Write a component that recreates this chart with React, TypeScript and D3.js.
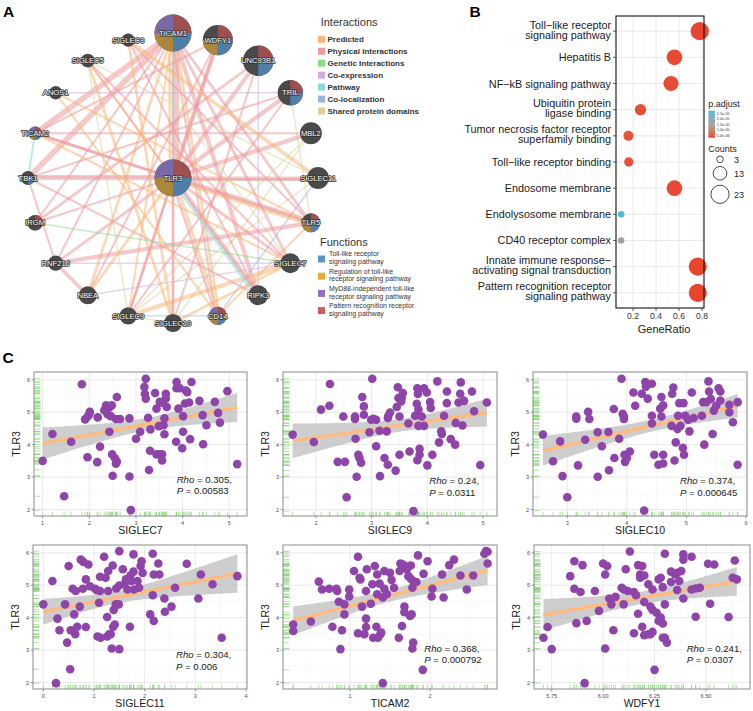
import React from 'react';
import * as d3 from 'd3';

const FONT = '"Liberation Sans", Arial, Helvetica, sans-serif';

/* ================= Panel A : network data ================= */
const hubGene = 'TLR3';
const hubScore = 100;
const ringGenes = ['TICAM1', 'WDFY1', 'UNC93B1', 'TRIL', 'MBL2', 'SIGLEC11', 'TLR5', 'SIGLEC7', 'RIPK3', 'CD14',
  'SIGLEC10', 'SIGLEC9', 'NBEA', 'RNF216', 'IRGM', 'TBK1', 'TICAM2', 'ANOS1', 'SIGLEC5', 'SIGLEC8'];
const ringScores = [100, 66, 68, 47, 35, 35, 26, 29, 29, 24, 24, 22, 24, 17, 18, 14, 13, 13, 14, 13];

// quadrant order (clockwise from 12 o'clock)
const quadrantKeys = ['pattern', 'toll', 'regulation', 'myd88'];
const geneFunctions: Record<string, string[]> = {
  TLR3: ['pattern', 'toll', 'regulation', 'myd88'],
  TICAM1: ['pattern', 'toll', 'regulation', 'myd88'],
  WDFY1: ['pattern', 'toll', 'regulation'],
  UNC93B1: ['pattern', 'toll'],
  TRIL: ['pattern', 'toll'],
  TLR5: ['pattern', 'toll', 'regulation'],
  CD14: ['pattern', 'toll', 'regulation', 'myd88'],
  TICAM2: ['pattern', 'toll', 'regulation', 'myd88'],
  TBK1: ['toll'],
  IRGM: ['pattern'],
};

const interactionNames = ['Predicted', 'Physical Interactions', 'Genetic Interactions', 'Co-expression', 'Pathway', 'Co-localization', 'Shared protein domains'];
const interactionKeys = ['pred', 'phys', 'gen', 'coex', 'path', 'coloc', 'dom'];
const interactionColors = ['#f7b87a', '#ec9a9e', '#8ddc8a', '#d2aedc', '#8fd8dc', '#9db1e3', '#dbd29a'];

const functionLegendKeys = ['toll', 'regulation', 'myd88', 'pattern'];
const functionLegendLabels = [
  ['Toll-like receptor', 'signaling pathway'],
  ['Regulation of toll-like', 'receptor signaling pathway'],
  ['MyD88-independent toll-like', 'receptor signaling pathway'],
  ['Pattern recognition receptor', 'signaling pathway'],
];
const functionLegendColors = ['#5b94c8', '#eaa935', '#8b72c8', '#c9625c'];
const functionNodeColors = ['#4f7ea8', '#ab863c', '#7a69a8', '#9e4f50'];

// [source, target, interaction type, weight]
const edgeList: [string, string, string, number][] = [
  ['TICAM1', 'TLR3', 'phys', 4], ['TICAM1', 'TLR3', 'path', 2], ['TICAM1', 'TLR3', 'pred', 2],
  ['TICAM1', 'TBK1', 'phys', 4], ['TICAM1', 'TICAM2', 'phys', 4], ['TICAM1', 'RIPK3', 'phys', 3],
  ['TICAM1', 'SIGLEC7', 'phys', 2], ['TICAM1', 'CD14', 'pred', 2], ['TICAM1', 'CD14', 'phys', 1.5],
  ['TICAM1', 'IRGM', 'phys', 1.5], ['TICAM1', 'RNF216', 'phys', 1.5], ['TICAM1', 'NBEA', 'pred', 2],
  ['TICAM1', 'TLR5', 'phys', 2], ['TICAM1', 'SIGLEC10', 'phys', 1], ['TICAM1', 'SIGLEC9', 'pred', 1.5],
  ['WDFY1', 'TLR3', 'phys', 3], ['WDFY1', 'SIGLEC9', 'phys', 2], ['WDFY1', 'NBEA', 'phys', 1.5],
  ['WDFY1', 'TICAM2', 'phys', 1.5], ['UNC93B1', 'TLR3', 'phys', 3], ['UNC93B1', 'IRGM', 'phys', 2],
  ['UNC93B1', 'RIPK3', 'coex', 1], ['UNC93B1', 'SIGLEC10', 'phys', 1.5], ['TRIL', 'TLR3', 'phys', 3],
  ['TRIL', 'TBK1', 'phys', 1.5], ['TRIL', 'ANOS1', 'coex', 1], ['TRIL', 'TLR5', 'dom', 1],
  ['TRIL', 'SIGLEC9', 'phys', 1.5], ['MBL2', 'TLR3', 'phys', 3], ['MBL2', 'TICAM2', 'phys', 1.5],
  ['MBL2', 'SIGLEC9', 'dom', 1], ['MBL2', 'SIGLEC10', 'dom', 1], ['SIGLEC11', 'TBK1', 'phys', 2],
  ['SIGLEC11', 'TLR3', 'phys', 2], ['SIGLEC11', 'SIGLEC8', 'pred', 2.5], ['SIGLEC11', 'SIGLEC5', 'dom', 1],
  ['SIGLEC11', 'SIGLEC9', 'dom', 1], ['SIGLEC11', 'CD14', 'coloc', 1], ['TLR5', 'RNF216', 'phys', 3],
  ['TLR5', 'TLR3', 'pred', 3], ['TLR5', 'TLR3', 'phys', 2], ['TLR5', 'TICAM2', 'phys', 2],
  ['TLR5', 'CD14', 'pred', 1.5], ['TLR5', 'ANOS1', 'pred', 1.5], ['SIGLEC7', 'SIGLEC9', 'pred', 3],
  ['SIGLEC7', 'SIGLEC10', 'pred', 2], ['SIGLEC7', 'TLR3', 'phys', 2], ['SIGLEC7', 'NBEA', 'coex', 1],
  ['SIGLEC7', 'SIGLEC5', 'phys', 1.5], ['SIGLEC7', 'SIGLEC8', 'dom', 1], ['SIGLEC7', 'RNF216', 'coex', 1],
  ['RIPK3', 'TLR3', 'path', 3], ['RIPK3', 'TLR3', 'phys', 2], ['RIPK3', 'TBK1', 'phys', 1.5],
  ['RIPK3', 'SIGLEC8', 'phys', 1.5], ['RIPK3', 'SIGLEC5', 'phys', 1.5], ['CD14', 'TLR3', 'phys', 2],
  ['CD14', 'TLR3', 'pred', 2], ['CD14', 'SIGLEC9', 'coloc', 1], ['SIGLEC10', 'SIGLEC8', 'pred', 2],
  ['SIGLEC10', 'SIGLEC5', 'pred', 2], ['SIGLEC10', 'TLR3', 'phys', 2], ['SIGLEC10', 'SIGLEC9', 'dom', 1],
  ['SIGLEC9', 'TLR3', 'phys', 1.5], ['SIGLEC9', 'SIGLEC5', 'dom', 1], ['NBEA', 'RNF216', 'phys', 2.5],
  ['NBEA', 'TLR3', 'pred', 2], ['RNF216', 'TLR3', 'phys', 2], ['RNF216', 'TBK1', 'phys', 1.5],
  ['IRGM', 'TLR3', 'phys', 1.5], ['TBK1', 'TLR3', 'phys', 2], ['TBK1', 'TICAM2', 'path', 1.5],
  ['TBK1', 'TLR3', 'path', 1], ['TICAM2', 'TLR3', 'phys', 2], ['TICAM2', 'SIGLEC7', 'pred', 1.5],
  ['ANOS1', 'CD14', 'pred', 1.5], ['SIGLEC5', 'TLR3', 'pred', 1.5], ['SIGLEC8', 'TLR5', 'phys', 1.5],
  ['TLR3', 'SIGLEC11', 'gen', 1], ['IRGM', 'SIGLEC7', 'gen', 1],
];

/* ================= Panel B : enrichment dot plot ================= */
const bTerms = [
  'Toll−like receptor\nsignaling pathway', 'Hepatitis B', 'NF−kB signaling pathway',
  'Ubiquitin protein\nligase binding', 'Tumor necrosis factor receptor\nsuperfamily binding',
  'Toll−like receptor binding', 'Endosome membrane', 'Endolysosome membrane', 'CD40 receptor complex',
  'Innate immune response−\nactivating signal transduction', 'Pattern recognition receptor\nsignaling pathway',
];
const bGeneRatio = [0.78, 0.56, 0.53, 0.265, 0.16, 0.163, 0.56, 0.097, 0.097, 0.763, 0.763];
const bCounts = [23, 17, 16, 9, 7, 6, 17, 3, 3, 23, 23];
const bPAdjust = [3.3e-6, 3.6e-6, 3.8e-6, 4.0e-6, 4.4e-6, 4.2e-6, 3.5e-6, 2.74e-5, 1.55e-5, 3.2e-6, 3.2e-6];
const bXTicks = [0.2, 0.4, 0.6, 0.8];
const bColorBreaks = [2.5e-5, 2.0e-5, 1.5e-5, 1.0e-5, 5.0e-6];
const bColorBreakLabels = ['2.5e-05', '2.0e-05', '1.5e-05', '1.0e-05', '5.0e-06'];
const bSizeBreaks = [3, 13, 23];

/* ================= Panel C : correlation scatter data ================= */
const siglec7Pts: [number, number][] = [[1.00,3.50],[1.21,4.33],[1.61,4.09],[1.84,5.86],[1.91,4.78],[1.96,4.86],[2.00,4.94],[2.01,5.01],[1.96,3.61],[2.17,3.46],[2.18,4.84],[2.23,3.94],[2.32,5.06],[2.36,5.21],[2.39,4.94],[2.44,5.16],[2.48,5.21],[2.43,4.40],[2.46,4.88],[2.59,5.47],[2.50,3.04],[2.57,4.79],[2.49,3.70],[2.55,3.58],[2.57,3.41],[2.59,3.48],[2.66,4.79],[2.86,3.02],[2.86,4.81],[2.89,1.98],[3.00,4.18],[3.09,4.40],[3.18,5.78],[3.21,6.03],[3.19,5.57],[3.21,5.42],[3.26,4.83],[3.28,3.22],[3.30,3.81],[3.31,4.47],[3.41,5.59],[3.44,5.11],[3.44,3.70],[3.51,5.32],[3.56,5.29],[3.59,4.60],[3.64,5.57],[3.64,5.42],[3.66,5.16],[3.49,4.57],[3.51,3.70],[3.56,3.70],[3.56,3.51],[3.61,4.32],[3.61,4.81],[3.87,5.93],[3.87,5.74],[3.91,5.11],[3.94,5.74],[3.86,4.09],[3.99,3.89],[4.01,4.40],[4.01,4.88],[4.05,5.27],[4.07,5.67],[4.10,5.62],[4.14,5.30],[4.16,4.17],[4.19,5.93],[4.36,5.35],[4.43,4.91],[4.44,4.01],[4.51,4.60],[4.69,5.32],[4.76,4.98],[4.80,4.68],[4.96,5.65],[5.17,3.40],[1.46,2.41]];
const siglec9Pts: [number, number][] = [[1.58,4.31],[1.96,4.08],[2.09,5.08],[2.24,5.20],[2.25,5.87],[2.39,3.47],[2.49,4.87],[2.52,3.47],[2.55,2.38],[2.70,4.79],[2.70,4.87],[2.71,4.18],[2.73,3.01],[2.76,3.69],[2.78,3.59],[2.81,3.44],[2.83,5.47],[2.86,5.18],[2.86,4.92],[2.96,4.38],[2.99,4.77],[3.01,6.03],[3.03,4.80],[3.08,4.77],[3.08,3.95],[3.15,3.03],[3.14,4.43],[3.23,3.59],[3.27,4.41],[3.29,4.82],[3.30,4.89],[3.29,3.38],[3.33,4.99],[3.43,3.20],[3.45,5.16],[3.47,5.77],[3.48,5.44],[3.50,3.69],[3.50,4.87],[3.53,5.33],[3.54,5.44],[3.56,5.59],[3.66,4.65],[3.68,3.79],[3.75,1.95],[3.78,4.89],[3.81,5.26],[3.82,5.74],[3.83,5.56],[3.84,5.08],[3.82,3.52],[3.86,3.87],[3.86,3.69],[3.84,4.58],[3.90,4.87],[3.94,4.58],[3.94,5.74],[3.99,5.61],[4.00,3.36],[4.05,5.31],[4.06,5.13],[4.09,3.69],[4.18,5.95],[4.21,4.07],[4.25,4.41],[4.26,4.33],[4.30,4.89],[4.35,5.28],[4.35,5.64],[4.42,4.17],[4.50,4.00],[4.51,4.67],[4.56,5.30],[4.59,5.57],[4.60,5.92],[4.63,4.59],[4.66,5.35],[4.80,5.64],[4.84,5.03],[4.95,3.37],[5.07,5.30]];
const siglec10Pts: [number, number][] = [[2.59,4.31],[2.76,3.49],[2.88,4.10],[2.92,3.03],[3.00,2.38],[3.15,4.87],[3.15,4.80],[3.18,3.36],[3.30,4.15],[3.35,5.01],[3.37,4.79],[3.51,3.01],[3.51,4.38],[3.58,3.95],[3.69,4.39],[3.70,3.21],[3.78,5.10],[3.79,3.59],[3.87,4.18],[3.91,6.03],[3.93,4.95],[3.95,4.87],[3.95,4.79],[3.96,3.69],[3.97,3.47],[4.00,3.59],[4.05,3.79],[4.11,5.61],[4.14,5.20],[4.25,5.57],[4.29,1.97],[4.31,5.93],[4.32,5.79],[4.35,5.42],[4.42,5.88],[4.42,4.89],[4.42,4.65],[4.46,3.69],[4.53,3.38],[4.56,5.11],[4.58,5.47],[4.58,4.87],[4.61,5.21],[4.61,3.69],[4.61,3.42],[4.75,4.58],[4.76,5.57],[4.78,5.76],[4.80,3.51],[4.82,4.07],[4.85,4.48],[4.86,4.89],[4.94,3.90],[4.88,5.28],[4.90,4.58],[4.95,5.28],[4.96,3.69],[4.98,4.89],[5.03,4.77],[5.05,4.41],[5.09,5.61],[5.12,4.82],[5.26,4.89],[5.28,5.31],[5.30,4.00],[5.33,5.31],[5.37,5.95],[5.38,5.64],[5.41,5.41],[5.46,5.05],[5.44,4.33],[5.50,5.20],[5.54,5.74],[5.57,5.64],[5.57,5.36],[5.72,5.23],[5.72,5.00],[5.78,4.69],[5.86,5.31],[5.86,3.38]];
const siglec11Pts: [number, number][] = [[0.00,4.41],[0.18,5.13],[0.28,3.97],[0.32,3.61],[0.43,4.41],[0.47,3.23],[0.50,5.59],[0.53,2.41],[0.54,3.61],[0.58,4.89],[0.61,4.10],[0.63,3.49],[0.64,4.82],[0.67,3.72],[0.72,4.34],[0.74,5.79],[0.78,4.89],[0.79,5.72],[0.84,5.18],[0.84,3.71],[0.89,5.64],[0.92,4.97],[1.02,4.89],[1.05,4.85],[1.07,3.42],[1.10,4.46],[1.12,4.82],[1.13,3.38],[1.12,5.26],[1.20,5.88],[1.23,5.23],[1.26,3.42],[1.26,4.02],[1.28,4.82],[1.28,5.44],[1.30,3.49],[1.33,3.49],[1.35,3.05],[1.37,5.61],[1.38,3.72],[1.39,4.24],[1.41,3.79],[1.43,4.41],[1.44,4.90],[1.49,4.41],[1.50,3.03],[1.50,6.05],[1.50,4.99],[1.57,5.49],[1.60,5.03],[1.63,5.18],[1.66,4.87],[1.70,5.18],[1.71,3.72],[1.72,5.30],[1.74,5.13],[1.78,5.42],[1.78,5.95],[1.79,4.87],[1.86,5.13],[1.89,4.92],[1.92,5.59],[1.94,5.74],[1.96,5.38],[2.11,4.10],[2.16,5.97],[2.16,4.69],[2.18,5.33],[2.18,3.90],[2.27,5.67],[2.29,5.33],[2.39,4.59],[2.40,4.18],[2.53,4.34],[2.60,4.92],[2.83,5.66],[3.06,4.59],[3.11,5.33],[3.34,5.03],[3.52,3.38],[3.83,5.28],[0.25,1.98]];
const ticam2Pts: [number, number][] = [[0.29,3.79],[0.29,3.59],[0.51,3.88],[0.61,5.11],[0.65,4.87],[0.74,4.89],[0.78,3.72],[0.83,4.89],[0.84,4.82],[0.86,4.49],[0.88,3.03],[0.90,3.61],[0.93,4.10],[0.93,4.41],[0.99,4.87],[0.99,4.65],[1.05,5.44],[1.10,5.88],[1.10,3.52],[1.12,5.23],[1.13,5.18],[1.15,4.34],[1.18,3.49],[1.20,4.82],[1.20,3.97],[1.20,3.71],[1.21,5.49],[1.26,4.43],[1.28,5.03],[1.29,3.38],[1.31,5.59],[1.33,3.72],[1.34,5.33],[1.34,4.72],[1.35,3.38],[1.38,3.49],[1.37,5.05],[1.39,3.54],[1.43,5.44],[1.43,4.89],[1.41,4.62],[1.46,4.72],[1.50,5.38],[1.52,5.16],[1.55,4.92],[1.61,3.38],[1.62,5.44],[1.63,5.67],[1.65,3.74],[1.66,5.64],[1.68,4.34],[1.68,4.17],[1.69,5.59],[1.71,5.49],[1.73,5.28],[1.75,4.05],[1.76,5.61],[1.76,5.20],[1.78,4.92],[1.77,4.10],[1.78,3.05],[1.79,3.23],[1.79,5.13],[1.83,5.10],[1.85,5.92],[1.91,2.39],[1.92,5.35],[1.97,5.74],[2.02,4.65],[2.03,4.89],[2.15,5.33],[2.17,4.62],[2.24,5.62],[2.30,5.79],[2.38,5.30],[2.46,4.87],[2.54,5.30],[2.68,5.97],[2.70,6.05],[2.72,6.03],[2.72,5.67],[1.41,1.98]];
const wdfy1Pts: [number, number][] = [[5.71,3.38],[5.73,3.71],[5.75,3.03],[5.84,5.28],[5.86,4.89],[5.86,5.74],[5.87,3.83],[5.89,4.79],[5.90,5.62],[5.92,3.90],[5.96,4.82],[5.98,4.21],[6.00,5.67],[6.01,5.33],[6.01,3.05],[6.02,5.59],[6.03,4.59],[6.04,4.41],[6.05,3.61],[6.06,4.64],[6.09,4.92],[6.10,4.87],[6.10,4.41],[6.11,5.49],[6.12,4.82],[6.13,6.04],[6.15,3.52],[6.15,4.79],[6.16,4.69],[6.17,5.62],[6.17,4.12],[6.18,5.23],[6.18,5.33],[6.19,3.72],[6.19,5.59],[6.20,5.30],[6.20,3.46],[6.20,4.48],[6.22,3.49],[6.22,5.03],[6.23,4.34],[6.23,3.49],[6.24,3.56],[6.24,4.24],[6.25,2.39],[6.24,4.87],[6.26,4.15],[6.27,3.90],[6.27,5.18],[6.28,5.23],[6.28,4.00],[6.29,3.82],[6.29,4.94],[6.29,3.38],[6.30,3.38],[6.30,4.41],[6.30,5.97],[6.31,3.23],[6.33,5.42],[6.33,5.10],[6.35,5.33],[6.36,5.38],[6.36,4.85],[6.37,5.13],[6.38,5.44],[6.39,4.59],[6.39,5.95],[6.39,5.79],[6.43,4.87],[6.43,5.88],[6.45,4.90],[6.45,4.03],[6.47,4.92],[6.51,5.66],[6.52,4.43],[6.54,5.64],[6.61,4.02],[6.63,5.23],[6.64,5.76],[6.65,5.18],[5.91,1.98]];

const scatterGenes = ['SIGLEC7', 'SIGLEC9', 'SIGLEC10', 'SIGLEC11', 'TICAM2', 'WDFY1'];
const scatterData = [siglec7Pts, siglec9Pts, siglec10Pts, siglec11Pts, ticam2Pts, wdfy1Pts];
const scatterRho = ['0.305', '0.24', '0.374', '0.304', '0.368', '0.241'];
const scatterP = ['0.00583', '0.0311', '0.000645', '0.006', '0.000792', '0.0307'];
const scatterXTicks = [[1, 2, 3, 4, 5], [2, 3, 4, 5], [3, 4, 5, 6], [0, 1, 2, 3, 4], [1, 2], [5.75, 6.0, 6.25, 6.5, 6.75]];
const yTicksTLR3 = [2, 3, 4, 5, 6];

/* ================= layout (not data) ================= */
const scatterLayout = [
  { left: 34, right: 247, top: 372, bottom: 516, xDomain: [0.814, 5.38], tx: 176.7, ty: 482.7, fmt: '.0f' },
  { left: 283, right: 497, top: 372, bottom: 516, xDomain: [1.407, 5.251], tx: 429.3, ty: 484, fmt: '.0f' },
  { left: 533, right: 747, top: 372, bottom: 516, xDomain: [2.424, 6.017], tx: 680, ty: 484, fmt: '.0f' },
  { left: 33, right: 247, top: 545, bottom: 689, xDomain: [-0.203, 4.02], tx: 176, ty: 658.3, fmt: '.0f' },
  { left: 283, right: 497, top: 545, bottom: 689, xDomain: [0.1625, 2.8375], tx: 424.3, ty: 651.7, fmt: '.0f' },
  { left: 534, right: 750, top: 545, bottom: 689, xDomain: [5.664, 6.714], tx: 686.7, ty: 651.7, fmt: '.2f' },
];
const scatterYDomain = [1.80, 6.24];

/* ================= Panel A component ================= */
function PanelA() {
  const cx = 173, cy = 178, R = 145;
  const rScale = d3.scaleSqrt().domain([0, 100]).range([0, 18.5]);
  const nodes = [
    ...ringGenes.map((g, i) => {
      const a = (i * 2 * Math.PI) / ringGenes.length;
      return { name: g, x: cx + R * Math.sin(a), y: cy - R * Math.cos(a), r: rScale(ringScores[i]) };
    }),
    { name: hubGene, x: cx, y: cy, r: rScale(hubScore) },
  ];
  const byName: Record<string, any> = {};
  nodes.forEach((n) => (byName[n.name] = n));

  const groups: Record<string, number[]> = {};
  edgeList.forEach((e, i) => {
    const k = [e[0], e[1]].sort().join('|');
    (groups[k] = groups[k] || []).push(i);
  });
  const colorOf: Record<string, string> = {};
  interactionKeys.forEach((k, i) => (colorOf[k] = interactionColors[i]));

  const arc = d3.arc<any>().innerRadius(0);
  const nodeColorOf: Record<string, string> = {};
  quadrantKeys.forEach((k) => {
    nodeColorOf[k] = functionNodeColors[functionLegendKeys.indexOf(k)];
  });

  return (
    <g>
      <g>
        {edgeList.map((e, i) => {
          const a = byName[e[0]], b = byName[e[1]];
          const k = [e[0], e[1]].sort().join('|');
          const grp = groups[k];
          const j = grp.indexOf(i);
          const off = (j - (grp.length - 1) / 2) * 3.2;
          const dx = b.x - a.x, dy = b.y - a.y;
          const len = Math.hypot(dx, dy);
          const nx = -dy / len, ny = dx / len;
          return (
            <line key={i} x1={a.x + nx * off} y1={a.y + ny * off} x2={b.x + nx * off} y2={b.y + ny * off}
              stroke={colorOf[e[2]]} strokeWidth={e[3] * 1.4} strokeOpacity={0.55} />
          );
        })}
      </g>
      {nodes.map((n) => {
        const funcs = geneFunctions[n.name] || [];
        return (
          <g key={n.name} transform={`translate(${n.x},${n.y})`}>
            <circle r={n.r} fill="#4a4a4a" />
            {quadrantKeys.map((q, qi) =>
              funcs.includes(q) ? (
                <path key={q} d={arc({ outerRadius: n.r, startAngle: (qi * Math.PI) / 2, endAngle: ((qi + 1) * Math.PI) / 2 }) as string}
                  fill={nodeColorOf[q]} />
              ) : null
            )}
            <text textAnchor="middle" dy="0.35em" fontSize={7.6} fill="#fff" stroke="#333" strokeWidth={1.6}
              style={{ paintOrder: 'stroke' }} strokeLinejoin="round">{n.name}</text>
          </g>
        );
      })}
      {/* Interactions legend */}
      <text x={320.7} y={26} fontSize={11} fill="#333">Interactions</text>
      {interactionNames.map((nm, i) => (
        <g key={nm} transform={`translate(318,${39.3 + i * 11.95})`}>
          <rect x={0} y={-3.5} width={7} height={7} fill={interactionColors[i]} />
          <text x={9.5} y={3} fontSize={8} fontWeight="bold" fill="#333">{nm}</text>
        </g>
      ))}
      {/* Functions legend */}
      <text x={320} y={245.7} fontSize={11} fill="#333">Functions</text>
      {functionLegendLabels.map((lines, i) => (
        <g key={i} transform={`translate(318,${259 + i * 17.2})`}>
          <rect x={0} y={-3.5} width={7} height={7} fill={functionLegendColors[i]} />
          <text fontSize={6.9} fill="#333">
            <tspan x={11} y={-2.6}>{lines[0]}</tspan>
            <tspan x={11} y={5.2}>{lines[1]}</tspan>
          </text>
        </g>
      ))}
    </g>
  );
}

/* ================= Panel B component ================= */
function PanelB() {
  const L = { left: 616, right: 704, top: 16, bottom: 308 };
  const x = d3.scaleLinear().domain([0.052, 0.817]).range([L.left, L.right]);
  const y = d3.scalePoint<string>().domain(bTerms).range([L.top, L.bottom]).padding(0.58);
  const size = d3.scaleSqrt().domain([0, 23]).range([0, 9.1]);
  const pMin = 3.2e-6, pMax = 2.74e-5;
  const color = d3.scaleLinear<string>()
    .domain([pMin, (pMin + pMax) / 2, pMax])
    .range(['#E8452F', '#a3a3a3', '#4DBBD8'])
    .interpolate(d3.interpolateLab).clamp(true);
  const minorX = [0.1, 0.3, 0.5, 0.7];
  const cb = { x: 708.3, y0: 110.7, y1: 137.7, w: 6.7 };
  const cbScale = d3.scaleLinear().domain([pMin, pMax]).range([cb.y1, cb.y0]);
  const gradStops = d3.range(0, 11).map((i) => pMin + ((pMax - pMin) * i) / 10);
  return (
    <g>
      <defs>
        <linearGradient id="pgrad" x1="0" y1="1" x2="0" y2="0">
          {gradStops.map((v, i) => (
            <stop key={i} offset={`${i * 10}%`} stopColor={color(v)} />
          ))}
        </linearGradient>
      </defs>
      <rect x={L.left} y={L.top} width={L.right - L.left} height={L.bottom - L.top} fill="#fff" />
      {minorX.map((v) => (
        <line key={'m' + v} x1={x(v)} x2={x(v)} y1={L.top} y2={L.bottom} stroke="#f2f2f2" strokeWidth={0.5} />
      ))}
      {bXTicks.map((v) => (
        <line key={'g' + v} x1={x(v)} x2={x(v)} y1={L.top} y2={L.bottom} stroke="#e6e6e6" strokeWidth={0.9} />
      ))}
      {bTerms.map((t) => (
        <line key={'h' + t} x1={L.left} x2={L.right} y1={y(t)} y2={y(t)} stroke="#e6e6e6" strokeWidth={0.9} />
      ))}
      {bTerms.map((t, i) => (
        <circle key={'c' + t} cx={x(bGeneRatio[i])} cy={y(t)} r={size(bCounts[i])} fill={color(bPAdjust[i])} />
      ))}
      <rect x={L.left} y={L.top} width={L.right - L.left} height={L.bottom - L.top} fill="none" stroke="#111" strokeWidth={1.1} />
      {bTerms.map((t) => {
        const lines = t.split('\n');
        const yy = y(t) as number;
        return (
          <g key={'l' + t}>
            <line x1={L.left - 3} x2={L.left} y1={yy} y2={yy} stroke="#333" strokeWidth={0.8} />
            <text textAnchor="end" fontSize={10.8} fill="#1a1a1a">
              {lines.map((ln, j) => (
                <tspan key={j} x={L.left - 5}
                  y={lines.length === 1 ? yy + 4 : yy + 2.5 + (j - (lines.length - 1) / 2) * 9.8}>{ln}</tspan>
              ))}
            </text>
          </g>
        );
      })}
      {bXTicks.map((v) => (
        <g key={'t' + v}>
          <line x1={x(v)} x2={x(v)} y1={L.bottom} y2={L.bottom + 3} stroke="#333" strokeWidth={0.8} />
          <text x={x(v)} y={L.bottom + 11.3} textAnchor="middle" fontSize={8.6} fill="#333">{v.toFixed(1)}</text>
        </g>
      ))}
      <text x={664} y={333} textAnchor="middle" fontSize={11} fill="#1a1a1a">GeneRatio</text>
      {/* p.adjust legend */}
      <text x={708.3} y={106.5} fontSize={9} fill="#1a1a1a">p.adjust</text>
      <rect x={cb.x} y={cb.y0} width={cb.w} height={cb.y1 - cb.y0} fill="url(#pgrad)" />
      {bColorBreaks.map((v, i) => (
        <g key={'cb' + v}>
          <line x1={cb.x} x2={cb.x + 1.3} y1={cbScale(v)} y2={cbScale(v)} stroke="#fff" strokeWidth={0.4} />
          <line x1={cb.x + cb.w - 1.3} x2={cb.x + cb.w} y1={cbScale(v)} y2={cbScale(v)} stroke="#fff" strokeWidth={0.4} />
          <text x={cb.x + cb.w + 1.8} y={cbScale(v) + 1.3} fontSize={3.8} fill="#333">{bColorBreakLabels[i]}</text>
        </g>
      ))}
      {/* Counts legend */}
      <text x={708.3} y={151.7} fontSize={9} fill="#1a1a1a">Counts</text>
      {bSizeBreaks.map((v, i) => {
        const cyy = [159.3, 173.3, 194.3][i];
        return (
          <g key={'s' + v}>
            <circle cx={720} cy={cyy} r={size(v)} fill="none" stroke="#1a1a1a" strokeWidth={0.8} />
            <text x={734} y={cyy + 3.2} fontSize={9} fill="#1a1a1a">{v}</text>
          </g>
        );
      })}
    </g>
  );
}

/* ================= Panel C component ================= */
function Scatter({ idx }: { idx: number }) {
  const L = scatterLayout[idx];
  const pts = scatterData[idx];
  const x = d3.scaleLinear().domain(L.xDomain).range([L.left, L.right]);
  const y = d3.scaleLinear().domain(scatterYDomain).range([L.bottom, L.top]);
  const xs = pts.map((d) => d[0]);
  const ys = pts.map((d) => d[1]);
  const n = xs.length;
  const mx = d3.mean(xs) as number;
  const my = d3.mean(ys) as number;
  let sxx = 0, sxy = 0;
  for (let i = 0; i < n; i++) {
    sxx += (xs[i] - mx) ** 2;
    sxy += (xs[i] - mx) * (ys[i] - my);
  }
  const b = sxy / sxx;
  const a = my - b * mx;
  let sse = 0;
  for (let i = 0; i < n; i++) sse += (ys[i] - a - b * xs[i]) ** 2;
  const s = Math.sqrt(sse / (n - 2));
  const t = 1.99;
  const [x0, x1] = d3.extent(xs) as [number, number];
  const grid = d3.range(0, 81).map((i) => x0 + ((x1 - x0) * i) / 80);
  const band = grid.map((xv) => {
    const yh = a + b * xv;
    const se = s * Math.sqrt(1 / n + (xv - mx) ** 2 / sxx);
    return { xv, yh, lo: yh - t * se, hi: yh + t * se };
  });
  const area = d3.area<any>().x((d) => x(d.xv)).y0((d) => y(d.lo)).y1((d) => y(d.hi));
  const line = d3.line<any>().x((d) => x(d.xv)).y((d) => y(d.yh));

  const xt = scatterXTicks[idx].filter((v) => v >= L.xDomain[0] && v <= L.xDomain[1]);
  const step = scatterXTicks[idx][1] - scatterXTicks[idx][0];
  const minorXs: number[] = [];
  for (let v = scatterXTicks[idx][0] - step / 2; v <= L.xDomain[1]; v += step) {
    if (v >= L.xDomain[0]) minorXs.push(v);
  }
  const minorYs = [1.5, 2.5, 3.5, 4.5, 5.5].filter((v) => v >= scatterYDomain[0] && v <= scatterYDomain[1]);
  const fmt = d3.format(L.fmt);
  const clipId = `clip${idx}`;

  return (
    <g>
      <defs>
        <clipPath id={clipId}>
          <rect x={L.left} y={L.top} width={L.right - L.left} height={L.bottom - L.top} />
        </clipPath>
      </defs>
      <rect x={L.left} y={L.top} width={L.right - L.left} height={L.bottom - L.top} fill="#fff" />
      {minorXs.map((v) => (
        <line key={'mx' + v} x1={x(v)} x2={x(v)} y1={L.top} y2={L.bottom} stroke="#f1f1f1" strokeWidth={0.5} />
      ))}
      {minorYs.map((v) => (
        <line key={'my' + v} y1={y(v)} y2={y(v)} x1={L.left} x2={L.right} stroke="#f1f1f1" strokeWidth={0.5} />
      ))}
      {xt.map((v) => (
        <line key={'gx' + v} x1={x(v)} x2={x(v)} y1={L.top} y2={L.bottom} stroke="#e3e3e3" strokeWidth={0.8} />
      ))}
      {yTicksTLR3.map((v) => (
        <line key={'gy' + v} y1={y(v)} y2={y(v)} x1={L.left} x2={L.right} stroke="#e3e3e3" strokeWidth={0.8} />
      ))}
      <g clipPath={`url(#${clipId})`}>
        <path d={area(band) as string} fill="#bdbdbd" fillOpacity={0.75} />
        <path d={line(band) as string} fill="none" stroke="#fdbb80" strokeWidth={3.4} />
        {pts.map((d, i) => (
          <line key={'rl' + i} x1={L.left} x2={L.left + 6.4} y1={y(d[1])} y2={y(d[1])} stroke="#7fd16f" strokeWidth={0.6} />
        ))}
        {pts.map((d, i) => (
          <line key={'rb' + i} x1={x(d[0])} x2={x(d[0])} y1={L.bottom} y2={L.bottom - 4.3} stroke="#7fd16f" strokeWidth={0.6} />
        ))}
        {pts.map((d, i) => (
          <circle key={'p' + i} cx={x(d[0])} cy={y(d[1])} r={4.3} fill="#8e44a8" />
        ))}
      </g>
      <rect x={L.left} y={L.top} width={L.right - L.left} height={L.bottom - L.top} fill="none" stroke="#8c8c8c" strokeWidth={1} />
      {yTicksTLR3.map((v) => (
        <g key={'ty' + v}>
          <line x1={L.left - 2.5} x2={L.left} y1={y(v)} y2={y(v)} stroke="#555" strokeWidth={0.6} />
          <text x={L.left - 4} y={y(v) + 2} textAnchor="end" fontSize={5.6} fill="#4d4d4d">{v}</text>
        </g>
      ))}
      {xt.map((v) => (
        <g key={'tx' + v}>
          <line x1={x(v)} x2={x(v)} y1={L.bottom} y2={L.bottom + 2.5} stroke="#555" strokeWidth={0.6} />
          <text x={x(v)} y={L.bottom + 8.5} textAnchor="middle" fontSize={5.6} fill="#4d4d4d">{fmt(v)}</text>
        </g>
      ))}
      <text transform={`translate(${L.left - 17.5},${(L.top + L.bottom) / 2}) rotate(-90)`} textAnchor="middle"
        dy="0.35em" fontSize={10.5} fill="#1a1a1a">TLR3</text>
      <text x={(L.left + L.right) / 2} y={L.bottom + 18} textAnchor="middle" fontSize={10.5} fill="#1a1a1a">{scatterGenes[idx]}</text>
      <text x={L.tx} y={L.ty} fontSize={9.6} fill="#1a1a1a">
        <tspan fontStyle="italic">Rho</tspan>
        <tspan>{` = ${scatterRho[idx]},`}</tspan>
      </text>
      <text x={L.tx} y={L.ty + 11.5} fontSize={9.6} fill="#1a1a1a">
        <tspan fontStyle="italic">P</tspan>
        <tspan>{` = ${scatterP[idx]}`}</tspan>
      </text>
    </g>
  );
}

export default function App() {
  return (
    <svg width={753} height={711} viewBox="0 0 753 711" fontFamily={FONT}
      style={{ position: 'absolute', left: 0, top: 0, display: 'block', background: '#fff' }}>
      <rect width={753} height={711} fill="#fff" />
      <PanelA />
      <PanelB />
      {scatterGenes.map((g, i) => (
        <Scatter key={g} idx={i} />
      ))}
      <text x={3} y={16.7} fontSize={15.5} fontWeight="bold" fill="#000">A</text>
      <text x={469.5} y={16.7} fontSize={15.5} fontWeight="bold" fill="#000">B</text>
      <text x={2.5} y={362.7} fontSize={15.5} fontWeight="bold" fill="#000">C</text>
    </svg>
  );
}
